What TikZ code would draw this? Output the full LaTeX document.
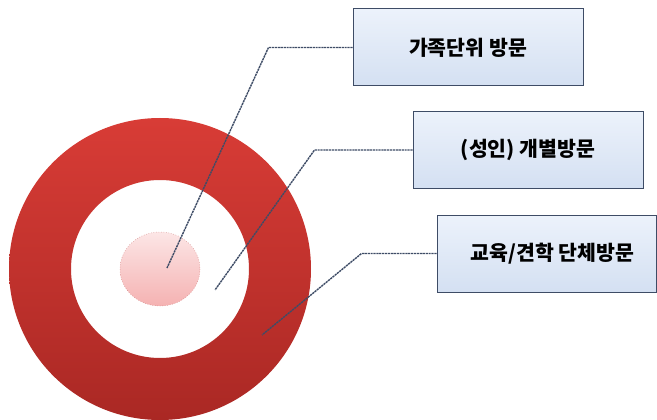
\documentclass[tikz,border=0pt]{standalone}
\usepackage{fontspec}
\newfontfamily\kofont{Noto Sans CJK KR}
\usetikzlibrary{positioning}
\definecolor{ringtop}{RGB}{216,60,54}
\definecolor{ringbot}{RGB}{170,40,36}
\definecolor{coretop}{RGB}{252,230,230}
\definecolor{corebot}{RGB}{245,178,178}
\definecolor{boxtop}{RGB}{236,242,251}
\definecolor{boxbot}{RGB}{212,224,242}
\definecolor{leadc}{RGB}{62,76,102}

\begin{document}
\begin{tikzpicture}[x=1pt,y=-1pt,
    visitbox/.style={draw=leadc,line width=1pt,top color=boxtop,bottom color=boxbot,
      minimum height=77pt,inner sep=0pt,font=\kofont\bfseries\fontsize{20.5}{24}\selectfont},
    leader/.style={leadc,line width=1.4pt,dash pattern=on 2.2pt off 0.7pt}]
			\useasboundingbox (0,0) rectangle (657,420);
			% outer ring
			\shade[top color=ringtop,bottom color=ringbot,even odd rule]
			  (160,269) circle (151) (160,269) circle (89);
			% inner core
			\shade[top color=coretop,bottom color=corebot] (160,269) ellipse (40 and 37);
			\draw[ringbot!60,line width=0.5pt,dotted] (160,269) ellipse (40 and 37);
			% boxes
			\node[visitbox,minimum width=230pt] (family) at (468,47.5) {가족단위 방문};
			\node[visitbox,minimum width=230pt] (adult) at (528,150) {(성인) 개별방문};
			\node[visitbox,minimum width=219pt] (group) at (546.5,253.5) {\hspace{12pt}교육/견학 단체방문};
			% leader ends
			\coordinate (core) at (167,268);
			\coordinate (gap) at (215,290);
			\coordinate (ring) at (262,335);
			\draw[leader] (family.west) -- ++(-84,0) -- (core);
			\draw[leader] (adult.west) -- ++(-98,0) -- (gap);
			\draw[leader] (group.west) -- ++(-75,0) -- (ring);
		\end{tikzpicture}
\end{document}
